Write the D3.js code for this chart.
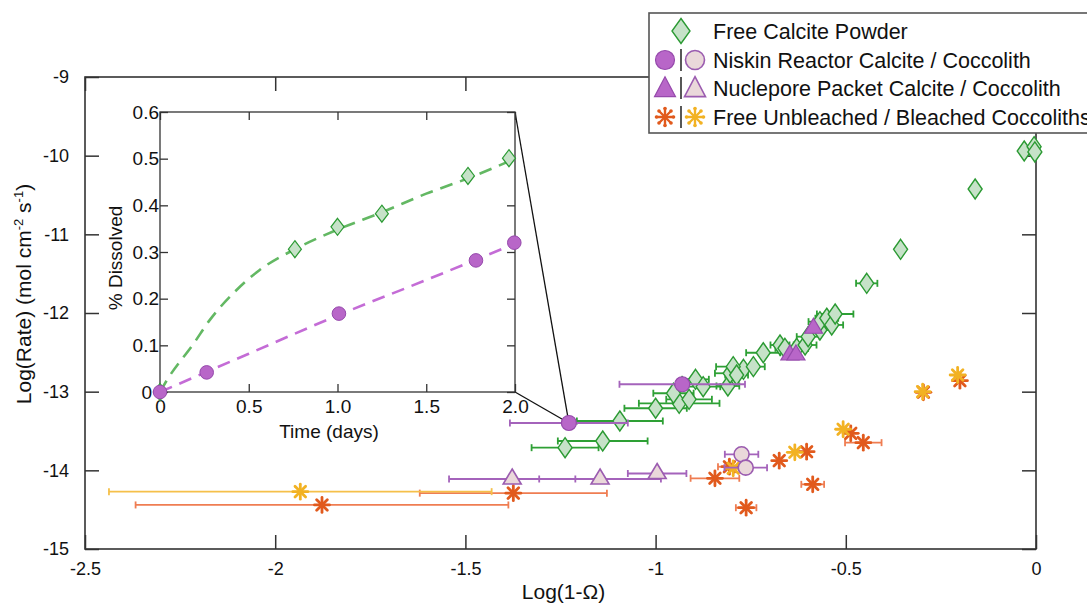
<!DOCTYPE html>
<html><head><meta charset="utf-8">
<script src="https://cdn.jsdelivr.net/npm/d3@7"></script>
<style>
body{margin:0;background:#fff}
svg{display:block}
text{font-family:"Liberation Sans",Arial,Helvetica,sans-serif;fill:#111}
</style>
</head><body>
<svg id="chart" width="1087" height="603"></svg>
<script>
// ---- main panel: dissolution rate vs undersaturation ----
const xTickVals = [-2.5, -2, -1.5, -1, -0.5, 0];
const xTickLabels = ["-2.5", "-2", "-1.5", "-1", "-0.5", "0"];
const yTickVals = [-15, -14, -13, -12, -11, -10, -9];
const yTickLabels = ["-15", "-14", "-13", "-12", "-11", "-10", "-9"];

// Free calcite powder
const calciteX   = [-1.094,-1.139,-1.238,-1.000,-0.938,-0.953,-0.912,-0.895,-0.875,-0.810,-0.804,-0.769,-0.796,-0.717,-0.743,-0.787,-0.673,-0.660,-0.629,-0.607,-0.599,-0.568,-0.568,-0.550,-0.537,-0.528,-0.445,-0.356,-0.160,-0.031,-0.005,-0.003];
const calciteY   = [-13.373,-13.627,-13.712,-13.211,-13.148,-13.020,-13.097,-12.843,-12.937,-12.928,-12.766,-12.716,-12.682,-12.505,-12.682,-12.788,-12.407,-12.449,-12.449,-12.407,-12.301,-12.216,-12.110,-12.067,-12.152,-12.013,-11.623,-11.190,-10.424,-9.941,-9.886,-9.953];
const calciteErr = [0.113,0.118,0.088,0.082,0.106,0.053,0.060,0.035,0.045,0.030,0.040,0.030,0.045,0.045,0.030,0.030,0.025,0.025,0.030,0.030,0.030,0.030,0.030,0.030,0.030,0.048,0.028,0,0,0,0,0];

// Niskin reactor: calcite / coccolith
const niskinCalciteX = [-1.228, -0.930];
const niskinCalciteY = [-13.398, -12.906];
const niskinCalciteErr = [0.155, 0.165];
const niskinCoccoX = [-0.774, -0.763];
const niskinCoccoY = [-13.796, -13.966];
const niskinCoccoErr = [0.044, 0.056];

// Nuclepore packet: calcite / coccolith
const packetCalciteX = [-0.647, -0.631, -0.585];
const packetCalciteY = [-12.534, -12.534, -12.194];
const packetCalciteErr = [0, 0, 0];
const packetCoccoX = [-1.377, -1.146, -0.996];
const packetCoccoY = [-14.110, -14.110, -14.040];
const packetCoccoErr = [0.166, 0.160, 0.077];

// Free coccoliths: unbleached / bleached
const unbleachedX = [-1.877,-1.374,-0.844,-0.806,-0.675,-0.603,-0.587,-0.762,-0.487,-0.454,-0.296,-0.200];
const unbleachedY = [-14.440,-14.290,-14.101,-13.954,-13.877,-13.763,-14.178,-14.475,-13.530,-13.648,-13.008,-12.860];
const unbleachedErr = [0.490,0.246,0.064,0.030,0,0,0.030,0.027,0,0.048,0,0];
const bleachedX = [-1.934,-0.796,-0.634,-0.507,-0.298,-0.206];
const bleachedY = [-14.271,-13.974,-13.771,-13.478,-13.000,-12.788];
const bleachedErr = [0.503,0,0,0,0,0];

// ---- inset: % dissolved over time ----
const insetTimeTicks = [0, 0.5, 1, 1.5, 2];
const insetTimeLabels = ["0", "0.5", "1.0", "1.5", "2.0"];
const insetPctTicks = [0, 0.1, 0.2, 0.3, 0.4, 0.5, 0.6];
const insetPctLabels = ["0", "0.1", "0.2", "0.3", "0.4", "0.5", "0.6"];
const insetCalciteT = [0, 0.76, 1.0, 1.25, 1.735, 1.966];
const insetCalciteP = [0, 0.306, 0.354, 0.382, 0.463, 0.501];
const insetNiskinT = [0, 0.263, 1.008, 1.78, 1.996];
const insetNiskinP = [0, 0.042, 0.168, 0.282, 0.320];
const calciteFitT = [0, 0.04, 0.19, 0.28, 0.43, 0.56, 0.76, 1.0, 1.25, 1.5, 1.75, 2.0];
const calciteFitP = [0, 0.026, 0.104, 0.154, 0.218, 0.261, 0.306, 0.348, 0.385, 0.425, 0.460, 0.500];
const niskinFitT = [0, 0.5, 1.0, 1.5, 2.0];
const niskinFitP = [0, 0.082, 0.164, 0.240, 0.318];

const C = {
  greenFill: "#c6e2c8", greenStroke: "#2b9a33", greenBar: "#2ea035",
  purpleFill: "#b866c8", purpleStroke: "#964aac", purpleBar: "#a463bb",
  pinkFill: "#ead8da", pinkStroke: "#9b5cb0",
  orange: "#e15a1d", orangeBar: "#ef7d52",
  yellow: "#f2b223", yellowBar: "#f5c04a",
  greenDash: "#63b863", purpleDash: "#c46cd6"
};

const svg = d3.select("#chart");
const x = d3.scaleLinear().domain([-2.5, 0]).range([85, 1036]);
const y = d3.scaleLinear().domain([-15, -9]).range([549, 77]);

// frame and ticks
const axisG = svg.append("g").attr("class", "axes");
function styleAxis(g) {
  g.select(".domain").remove();
  g.selectAll(".tick line").attr("stroke", "#333").attr("stroke-width", 1.5);
  g.selectAll(".tick text").style("font-size", "18px").attr("fill", "#111");
}
axisG.append("g").attr("transform", "translate(0,549)")
  .call(d3.axisBottom(x).tickValues(xTickVals).tickSize(-14).tickPadding(13)
    .tickFormat((d, i) => xTickLabels[i])).call(styleAxis);
axisG.append("g").attr("transform", "translate(0,77)")
  .call(d3.axisTop(x).tickValues(xTickVals).tickSize(-14).tickFormat("")).call(styleAxis);
axisG.append("g").attr("transform", "translate(85,0)")
  .call(d3.axisLeft(y).tickValues(yTickVals).tickSize(-14).tickPadding(16)
    .tickFormat((d, i) => yTickLabels[i])).call(styleAxis);
axisG.append("g").attr("transform", "translate(1036,0)")
  .call(d3.axisRight(y).tickValues(yTickVals).tickSize(-14).tickFormat("")).call(styleAxis);
axisG.append("rect").attr("x", x(-2.5)).attr("y", y(-9))
  .attr("width", x(0) - x(-2.5)).attr("height", y(-15) - y(-9))
  .attr("fill", "none").attr("stroke", "#333").attr("stroke-width", 1.6);

svg.append("text").attr("x", (x(-2.5) + x(0)) / 2 + 3).attr("y", 599)
  .attr("text-anchor", "middle").style("font-size", "21px").text("Log(1-\u03A9)");
const yl = svg.append("text").attr("transform", "translate(31,294) rotate(-90)")
  .attr("text-anchor", "middle").style("font-size", "21px");
yl.append("tspan").text("Log(Rate) (mol cm");
yl.append("tspan").attr("dy", -8).style("font-size", "13px").text("-2");
yl.append("tspan").attr("dy", 8).text(" s");
yl.append("tspan").attr("dy", -8).style("font-size", "13px").text("-1");
yl.append("tspan").attr("dy", 8).text(")");

// ---- inset ----
const ix = d3.scaleLinear().domain([0, 2]).range([160, 515]);
const iy = d3.scaleLinear().domain([0, 0.6]).range([392, 112]);

// connector lines from inset to the matching reactor point
const target = [x(niskinCalciteX[0]), y(niskinCalciteY[0])];
svg.append("line").attr("x1", ix(2)).attr("y1", iy(0.6)).attr("x2", target[0]).attr("y2", target[1])
  .attr("stroke", "#111").attr("stroke-width", 1.3);
svg.append("line").attr("x1", ix(2)).attr("y1", iy(0)).attr("x2", target[0]).attr("y2", target[1])
  .attr("stroke", "#111").attr("stroke-width", 1.3);

const inset = svg.append("g").attr("class", "inset");
inset.append("rect").attr("x", ix(0)).attr("y", iy(0.6))
  .attr("width", ix(2) - ix(0)).attr("height", iy(0) - iy(0.6)).attr("fill", "#fff");
function styleInset(g) {
  g.select(".domain").remove();
  g.selectAll(".tick line").attr("stroke", "#333").attr("stroke-width", 1.3);
  g.selectAll(".tick text").style("font-size", "19px").attr("fill", "#111");
}
inset.append("g").attr("transform", `translate(0,${iy(0)})`)
  .call(d3.axisBottom(ix).tickValues(insetTimeTicks).tickSize(-8).tickPadding(8)
    .tickFormat((d, i) => insetTimeLabels[i])).call(styleInset);
inset.append("g").attr("transform", `translate(0,${iy(0.6)})`)
  .call(d3.axisTop(ix).tickValues(insetTimeTicks).tickSize(-8).tickFormat("")).call(styleInset);
inset.append("g").attr("transform", `translate(${ix(0)},0)`)
  .call(d3.axisLeft(iy).tickValues(insetPctTicks).tickSize(-8).tickPadding(1)
    .tickFormat((d, i) => insetPctLabels[i])).call(styleInset)
  .selectAll(".tick text").filter(d => d === 0).attr("dx", -7);
inset.append("g").attr("transform", `translate(${ix(2)},0)`)
  .call(d3.axisRight(iy).tickValues(insetPctTicks).tickSize(-8).tickFormat("")).call(styleInset);
inset.append("rect").attr("x", ix(0)).attr("y", iy(0.6))
  .attr("width", ix(2) - ix(0)).attr("height", iy(0) - iy(0.6))
  .attr("fill", "none").attr("stroke", "#333").attr("stroke-width", 1.3);
inset.append("text").attr("x", 329).attr("y", 438).attr("text-anchor", "middle")
  .style("font-size", "19px").text("Time (days)");
inset.append("text").attr("transform", "translate(122,258) rotate(-90)").attr("text-anchor", "middle")
  .style("font-size", "19px").text("% Dissolved");

const fitLine = d3.line().x(d => ix(d[0])).y(d => iy(d[1])).curve(d3.curveMonotoneX);
inset.append("path").attr("d", fitLine(d3.zip(calciteFitT, calciteFitP)))
  .attr("fill", "none").attr("stroke", C.greenDash).attr("stroke-width", 2.6).attr("stroke-dasharray", "13,8");
inset.append("path").attr("d", fitLine(d3.zip(niskinFitT, niskinFitP)))
  .attr("fill", "none").attr("stroke", C.purpleDash).attr("stroke-width", 2.6).attr("stroke-dasharray", "13,8");

// marker shapes
function diamondPath(cx, cy, hw, hh) {
  return `M${cx},${cy - hh}L${cx + hw},${cy}L${cx},${cy + hh}L${cx - hw},${cy}Z`;
}
function trianglePath(cx, cy, w, h) {
  return `M${cx},${cy - 2 * h / 3}L${cx + w / 2},${cy + h / 3}L${cx - w / 2},${cy + h / 3}Z`;
}
function asterisk(g, cx, cy, r, color, sw, dots) {
  const a = g.append("g");
  [0, 45, 90, 135].forEach(ang => {
    const t = ang * Math.PI / 180, dx = r * Math.cos(t), dy = r * Math.sin(t);
    a.append("line").attr("x1", cx - dx).attr("y1", cy - dy).attr("x2", cx + dx).attr("y2", cy + dy)
      .attr("stroke", color).attr("stroke-width", sw).attr("stroke-linecap", "round");
    if (dots) {
      [[cx - dx, cy - dy], [cx + dx, cy + dy]].forEach(p =>
        a.append("circle").attr("cx", p[0]).attr("cy", p[1]).attr("r", sw * 0.75).attr("fill", color));
    }
  });
}

inset.selectAll(".idiam").data(d3.zip(insetCalciteT, insetCalciteP)).join("path")
  .attr("d", d => diamondPath(ix(d[0]), iy(d[1]), 6.5, 8.5))
  .attr("fill", C.greenFill).attr("stroke", C.greenStroke).attr("stroke-width", 1.2);
inset.selectAll(".icirc").data(d3.zip(insetNiskinT, insetNiskinP)).join("circle")
  .attr("cx", d => ix(d[0])).attr("cy", d => iy(d[1])).attr("r", 6.8)
  .attr("fill", C.purpleFill).attr("stroke", C.purpleStroke).attr("stroke-width", 1);

// ---- main data ----
const plot = svg.append("g").attr("class", "data");
function errorBars(xs, ys, es, color, width) {
  const g = plot.append("g");
  xs.forEach((xv, i) => {
    if (!es[i]) return;
    const cy = y(ys[i]), x0 = x(xv - es[i]), x1 = x(xv + es[i]);
    g.append("line").attr("x1", x0).attr("x2", x1).attr("y1", cy).attr("y2", cy)
      .attr("stroke", color).attr("stroke-width", width);
    [x0, x1].forEach(xx => g.append("line").attr("x1", xx).attr("x2", xx)
      .attr("y1", cy - 3.5).attr("y2", cy + 3.5).attr("stroke", color).attr("stroke-width", width));
  });
}

errorBars(calciteX, calciteY, calciteErr, C.greenBar, 1.8);
calciteX.forEach((xv, i) => plot.append("path")
  .attr("d", diamondPath(x(xv), y(calciteY[i]), 7, 10))
  .attr("fill", C.greenFill).attr("stroke", C.greenStroke).attr("stroke-width", 1.4));

errorBars(unbleachedX, unbleachedY, unbleachedErr, C.orangeBar, 1.8);
unbleachedX.forEach((xv, i) => asterisk(plot, x(xv), y(unbleachedY[i]), 7.5, C.orange, 2.8, false));
errorBars(bleachedX, bleachedY, bleachedErr, C.yellowBar, 1.8);
bleachedX.forEach((xv, i) => asterisk(plot, x(xv), y(bleachedY[i]), 7.5, C.yellow, 2.8, false));

errorBars(packetCoccoX, packetCoccoY, packetCoccoErr, C.purpleBar, 1.8);
packetCoccoX.forEach((xv, i) => plot.append("path")
  .attr("d", trianglePath(x(xv), y(packetCoccoY[i]), 18, 15))
  .attr("fill", C.pinkFill).attr("stroke", C.pinkStroke).attr("stroke-width", 1.6));

errorBars(niskinCoccoX, niskinCoccoY, niskinCoccoErr, C.purpleBar, 1.8);
niskinCoccoX.forEach((xv, i) => plot.append("circle")
  .attr("cx", x(xv)).attr("cy", y(niskinCoccoY[i])).attr("r", 7.5)
  .attr("fill", C.pinkFill).attr("stroke", C.pinkStroke).attr("stroke-width", 1.6));

errorBars(niskinCalciteX, niskinCalciteY, niskinCalciteErr, C.purpleBar, 1.8);
niskinCalciteX.forEach((xv, i) => plot.append("circle")
  .attr("cx", x(xv)).attr("cy", y(niskinCalciteY[i])).attr("r", 7.5)
  .attr("fill", C.purpleFill).attr("stroke", C.purpleStroke).attr("stroke-width", 1.2));

errorBars(packetCalciteX, packetCalciteY, packetCalciteErr, C.purpleBar, 1.8);
packetCalciteX.forEach((xv, i) => plot.append("path")
  .attr("d", trianglePath(x(xv), y(packetCalciteY[i]), 18, 15))
  .attr("fill", C.purpleFill).attr("stroke", C.purpleStroke).attr("stroke-width", 1.2));

// ---- legend ----
const legendLabels = ["Free Calcite Powder", "Niskin Reactor Calcite / Coccolith",
  "Nuclepore Packet Calcite / Coccolith", "Free Unbleached / Bleached Coccoliths"];
const leg = svg.append("g").attr("class", "legend");
leg.append("rect").attr("x", 649).attr("y", 13).attr("width", 480).attr("height", 120)
  .attr("fill", "#fff").attr("stroke", "#555").attr("stroke-width", 1.6);
const rowY = [31, 60, 88, 117];
legendLabels.forEach((t, i) => leg.append("text").attr("x", 713).attr("y", rowY[i] + 7.5)
  .style("font-size", "21.5px").text(t));
leg.append("path").attr("d", diamondPath(681, rowY[0], 9, 12.5))
  .attr("fill", C.greenFill).attr("stroke", C.greenStroke).attr("stroke-width", 1.4);
[1, 2, 3].forEach(i => leg.append("line").attr("x1", 681).attr("x2", 681)
  .attr("y1", rowY[i] - 11).attr("y2", rowY[i] + 11).attr("stroke", "#111").attr("stroke-width", 1.4));
leg.append("circle").attr("cx", 665).attr("cy", rowY[1]).attr("r", 9.5)
  .attr("fill", C.purpleFill).attr("stroke", C.purpleStroke).attr("stroke-width", 1.2);
leg.append("circle").attr("cx", 695).attr("cy", rowY[1]).attr("r", 9.5)
  .attr("fill", C.pinkFill).attr("stroke", C.pinkStroke).attr("stroke-width", 1.6);
leg.append("path").attr("d", trianglePath(665, rowY[2] + 2, 21, 20))
  .attr("fill", C.purpleFill).attr("stroke", C.purpleStroke).attr("stroke-width", 1.2);
leg.append("path").attr("d", trianglePath(695, rowY[2] + 2, 21, 20))
  .attr("fill", C.pinkFill).attr("stroke", C.pinkStroke).attr("stroke-width", 1.6);
asterisk(leg, 665, rowY[3], 8.5, C.orange, 2.4, true);
asterisk(leg, 695, rowY[3], 8.5, C.yellow, 2.4, true);
</script>
</body></html>
